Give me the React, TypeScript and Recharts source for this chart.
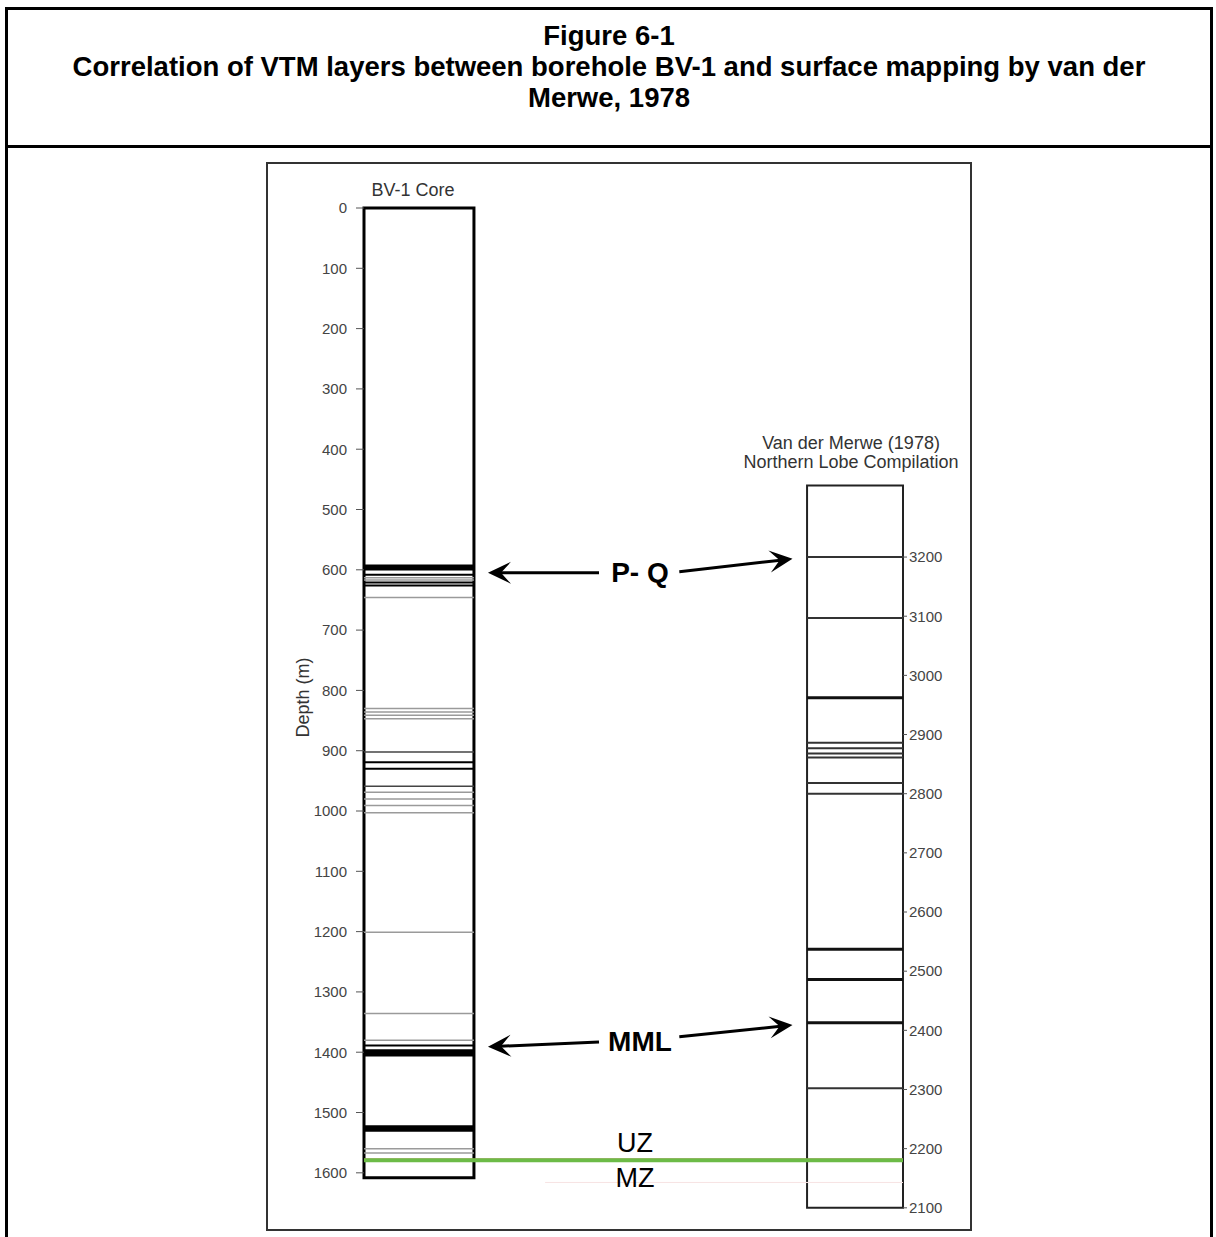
import React from "react";
import { ComposedChart, XAxis, YAxis, ReferenceArea, ReferenceLine, ReferenceDot } from "recharts";

// BV-1 core, depth in metres
const bvTicks = [0, 100, 200, 300, 400, 500, 600, 700, 800, 900, 1000, 1100, 1200, 1300, 1400, 1500, 1600];
const bvCore = { top: 0, bottom: 1608 };
const bvBands = [
  [591, 601],
  [1395, 1407],
  [1521, 1532],
];
const bvBlackLines = [608, 621, 626, 919, 930, 1389];
const bvDarkLines = [902, 959];
const bvGreyLines = [613, 617, 646, 830, 836, 841, 847, 969, 980, 991, 1003, 1201, 1336, 1380, 1560, 1567];

// Van der Merwe (1978) northern lobe compilation
const vdmTicks = [2100, 2200, 2300, 2400, 2500, 2600, 2700, 2800, 2900, 3000, 3100, 3200];
const vdmColumn = { top: 3321, bottom: 2100 };
const vdmThickLines = [2962, 2537, 2486, 2413];
const vdmLines = [3200, 3097, 2886, 2877, 2868, 2861, 2818, 2800, 2302];

// UZ / MZ contact, drawn on the core depth scale
const contactDepth = 1579;
const redDepth = 1577;
const faintDepth = 1616;

const correlations = [
  { name: "P- Q", labelDepth: 605, bvTip: 605, vdmStart: 3175, vdmTip: 3197 },
  { name: "MML", labelDepth: 1383, bvTip: 1391, vdmStart: 2389, vdmTip: 2409 },
];

const zoneLabels = [
  { name: "UZ", depth: 1550 },
  { name: "MZ", depth: 1608 },
];

// horizontal layout in x-axis units (0..100 across the plot)
const X_BV: [number, number] = [0, 20.4];
const X_VDM: [number, number] = [82.2, 100];
const X_LABEL = 51.2;
const X_LEFT_ARROW: [number, number] = [43.6, 23.0];
const X_RIGHT_ARROW: [number, number] = [58.5, 79.5];

const FONT = "'Liberation Sans', Arial, Helvetica, sans-serif";

function Arrow(props: any) {
  const { x1, y1, x2, y2 } = props;
  const a = Math.atan2(y2 - y1, x2 - x1);
  const c = Math.cos(a);
  const s = Math.sin(a);
  const p = (u: number, v: number) => `${x2 + u * c - v * s},${y2 + u * s + v * c}`;
  return (
    <g>
      <line x1={x1} y1={y1} x2={x2 - 12 * c} y2={y2 - 12 * s} stroke="#000" strokeWidth={3} />
      <polygon points={[p(0, 0), p(-23, 11), p(-13, 0), p(-23, -11)].join(" ")} fill="#000" />
    </g>
  );
}

function StackedTitle(props: any) {
  const vb = props.viewBox || { x: 0, y: 0, width: 0 };
  const cx = vb.x + vb.width / 2 - 4;
  return (
    <text textAnchor="middle" fontSize={18} fill="#333" fontFamily={FONT}>
      <tspan x={cx} y={vb.y - 36}>
        Van der Merwe (1978)
      </tspan>
      <tspan x={cx} y={vb.y - 17}>
        Northern Lobe Compilation
      </tspan>
    </text>
  );
}

const hLine = (key: string, axis: string, x: [number, number], y: number, stroke: string, w: number) => (
  <ReferenceLine
    key={key}
    yAxisId={axis}
    segment={[
      { x: x[0], y },
      { x: x[1], y },
    ]}
    stroke={stroke}
    strokeWidth={w}
  />
);

export default function App() {
  const tickStyle = { fontSize: 15, fill: "#444", fontFamily: FONT };
  return (
    <div
      style={{
        position: "absolute",
        left: 0,
        top: 0,
        width: 1216,
        height: 1237,
        overflow: "hidden",
        background: "#fff",
        fontFamily: FONT,
      }}
    >
      <div
        style={{
          position: "absolute",
          left: 5,
          top: 7,
          width: 1208,
          height: 1260,
          border: "3px solid #000",
          boxSizing: "border-box",
        }}
      />
      <div style={{ position: "absolute", left: 5, top: 145, width: 1208, height: 3, background: "#000" }} />
      <div
        style={{
          position: "absolute",
          left: 0,
          top: 20,
          width: 1218,
          textAlign: "center",
          fontWeight: "bold",
          fontSize: 27.5,
          lineHeight: "31px",
          whiteSpace: "nowrap",
        }}
      >
        <div>Figure 6-1</div>
        <div>Correlation of VTM layers between borehole BV-1 and surface mapping by van der</div>
        <div>Merwe, 1978</div>
      </div>
      <div
        style={{
          position: "absolute",
          left: 266,
          top: 162,
          width: 706,
          height: 1069,
          border: "2px solid #333",
          boxSizing: "border-box",
        }}
      />
      <div style={{ position: "absolute", left: 267, top: 163 }}>
        <ComposedChart width={705} height={1067} margin={{ top: 45, right: 9, bottom: 21, left: 37 }}>
          <XAxis type="number" dataKey="x" domain={[0, 100]} hide allowDataOverflow />
          <YAxis
            yAxisId="bv"
            orientation="left"
            type="number"
            reversed
            domain={[0, 1660]}
            ticks={bvTicks}
            interval={0}
            allowDataOverflow
            axisLine={false}
            tickLine={{ stroke: "#555" }}
            tickSize={8}
            tickMargin={9}
            width={60}
            tick={tickStyle}
            label={{
              value: "Depth (m)",
              angle: -90,
              position: "center",
              dx: -31,
              dy: -11,
              fontSize: 18,
              fill: "#333",
              fontFamily: FONT,
            }}
          />
          <YAxis
            yAxisId="vdm"
            orientation="right"
            type="number"
            domain={[2098, 3790]}
            ticks={vdmTicks}
            interval={0}
            allowDataOverflow
            axisLine={false}
            tickLine={{ stroke: "#555" }}
            tickSize={4}
            tickMargin={2}
            width={60}
            tick={tickStyle}
          />

          {bvBands.map(([a, b], i) => (
            <ReferenceArea
              key={`band-${i}`}
              yAxisId="bv"
              x1={X_BV[0]}
              x2={X_BV[1]}
              y1={a}
              y2={b}
              fill="#000"
              fillOpacity={1}
              stroke="none"
            />
          ))}
          {bvGreyLines.map((d, i) => hLine(`bg-${i}`, "bv", X_BV, d, "#9a9a9a", 1.5))}
          {bvDarkLines.map((d, i) => hLine(`bd-${i}`, "bv", X_BV, d, "#444", 1.5))}
          {bvBlackLines.map((d, i) => hLine(`bb-${i}`, "bv", X_BV, d, "#000", 2))}
          <ReferenceArea
            yAxisId="bv"
            x1={X_BV[0]}
            x2={X_BV[1]}
            y1={bvCore.top}
            y2={bvCore.bottom}
            fill="none"
            stroke="#000"
            strokeWidth={3}
            label={{ value: "BV-1 Core", position: "top", offset: 12, fontSize: 18, fill: "#333", dx: -6, fontFamily: FONT }}
          />

          {vdmLines.map((v, i) => hLine(`vl-${i}`, "vdm", X_VDM, v, "#333", 2))}
          {vdmThickLines.map((v, i) => hLine(`vt-${i}`, "vdm", X_VDM, v, "#111", 3))}
          <ReferenceArea
            yAxisId="vdm"
            x1={X_VDM[0]}
            x2={X_VDM[1]}
            y1={vdmColumn.top}
            y2={vdmColumn.bottom}
            fill="none"
            stroke="#222"
            strokeWidth={2}
            label={<StackedTitle />}
          />

          {hLine("faint", "bv", [33.6, 100], faintDepth, "#f7e3e3", 1)}
          {hLine("red", "bv", [0, 100], redDepth, "#e06060", 1)}
          {hLine("contact", "bv", [0, 100], contactDepth, "#6cbb47", 4)}

          {correlations.map((c) => (
            <ReferenceLine
              key={`la-${c.name}`}
              yAxisId="bv"
              segment={[
                { x: X_LEFT_ARROW[0], y: c.labelDepth },
                { x: X_LEFT_ARROW[1], y: c.bvTip },
              ]}
              shape={Arrow}
            />
          ))}
          {correlations.map((c) => (
            <ReferenceLine
              key={`ra-${c.name}`}
              yAxisId="vdm"
              segment={[
                { x: X_RIGHT_ARROW[0], y: c.vdmStart },
                { x: X_RIGHT_ARROW[1], y: c.vdmTip },
              ]}
              shape={Arrow}
            />
          ))}
          {correlations.map((c) => (
            <ReferenceDot
              key={`lbl-${c.name}`}
              yAxisId="bv"
              x={X_LABEL}
              y={c.labelDepth}
              r={0}
              shape={(p: any) => (
                <text
                  x={p.cx}
                  y={p.cy}
                  textAnchor="middle"
                  dominantBaseline="central"
                  fontSize={28}
                  fontWeight="bold"
                  fill="#000"
                  fontFamily={FONT}
                >
                  {c.name}
                </text>
              )}
            />
          ))}
          {zoneLabels.map((z) => (
            <ReferenceDot
              key={`zone-${z.name}`}
              yAxisId="bv"
              x={X_LABEL - 0.9}
              y={z.depth}
              r={0}
              shape={(p: any) => (
                <text
                  x={p.cx}
                  y={p.cy}
                  textAnchor="middle"
                  dominantBaseline="central"
                  fontSize={27}
                  fill="#000"
                  fontFamily={FONT}
                >
                  {z.name}
                </text>
              )}
            />
          ))}
        </ComposedChart>
      </div>
    </div>
  );
}
